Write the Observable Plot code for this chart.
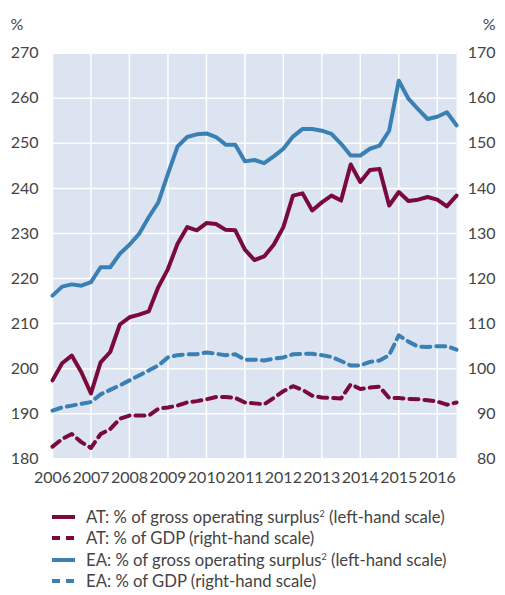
<!DOCTYPE html>
<html>
<head>
<meta charset="utf-8">
<script src="https://cdn.jsdelivr.net/npm/d3@7"></script>
<script src="https://cdn.jsdelivr.net/npm/@observablehq/plot@0.6"></script>
<style>
  body { margin: 0; background: #fff; font-family: Lato, "Open Sans", sans-serif; color: #444; }
  #chart { width: 505px; }
  .legend { margin-top: 11px; padding-left: 52px; font-size: 16.7px; }
  .row { height: 21.5px; display: flex; align-items: center; white-space: nowrap; }
  .row svg { margin-right: 11px; flex: none; }
  sup { font-size: 9px; vertical-align: 6px; line-height: 0; }
</style>
</head>
<body>
<div id="chart"></div>
<script>
const periods = [
  "2006Q1","2006Q2","2006Q3","2006Q4",
  "2007Q1","2007Q2","2007Q3","2007Q4",
  "2008Q1","2008Q2","2008Q3","2008Q4",
  "2009Q1","2009Q2","2009Q3","2009Q4",
  "2010Q1","2010Q2","2010Q3","2010Q4",
  "2011Q1","2011Q2","2011Q3","2011Q4",
  "2012Q1","2012Q2","2012Q3","2012Q4",
  "2013Q1","2013Q2","2013Q3","2013Q4",
  "2014Q1","2014Q2","2014Q3","2014Q4",
  "2015Q1","2015Q2","2015Q3","2015Q4",
  "2016Q1","2016Q2","2016Q3"
];
// left-hand scale (% of gross operating surplus)
const atGos = [
  197.4, 201.2, 202.9, 199.2,
  194.5, 201.4, 203.7, 209.8,
  211.4, 212.0, 212.7, 218.1,
  222.1, 227.7, 231.4, 230.7,
  232.3, 232.1, 230.8, 230.7,
  226.4, 224.1, 224.9, 227.5,
  231.4, 238.4, 238.9, 235.1,
  236.9, 238.4, 237.3, 245.3,
  241.4, 244.1, 244.3, 236.2,
  239.2, 237.2, 237.5, 238.1,
  237.5, 236.0, 238.4
];
const eaGos = [
  216.2, 218.2, 218.7, 218.4,
  219.2, 222.5, 222.5, 225.5,
  227.5, 229.9, 233.6, 236.9,
  243.2, 249.3, 251.4, 252.0,
  252.2, 251.4, 249.7, 249.7,
  246.0, 246.3, 245.6, 247.1,
  248.8, 251.5, 253.2, 253.2,
  252.8, 252.1, 249.9, 247.3,
  247.3, 248.8, 249.5, 252.8,
  263.9, 259.9, 257.6, 255.4,
  255.9, 256.9, 254.0
];
// right-hand scale (% of GDP)
const atGdp = [
  82.7, 84.4, 85.5, 83.7,
  82.4, 85.5, 86.6, 88.9,
  89.6, 89.6, 89.6, 91.1,
  91.4, 91.8, 92.5, 92.8,
  93.2, 93.7, 93.7, 93.5,
  92.5, 92.3, 92.1, 93.5,
  95.0, 96.1, 95.3, 94.0,
  93.6, 93.5, 93.4, 96.5,
  95.5, 95.8, 96.0, 93.5,
  93.5, 93.3, 93.2, 93.0,
  92.7, 92.0, 92.5
];
const eaGdp = [
  90.7, 91.4, 91.8, 92.2,
  92.6, 94.3, 95.3, 96.3,
  97.4, 98.5, 99.6, 100.7,
  102.5, 103.0, 103.2, 103.2,
  103.6, 103.3, 103.0, 103.2,
  102.0, 102.0, 101.8, 102.2,
  102.5, 103.2, 103.3, 103.3,
  103.0, 102.6, 101.7, 100.7,
  100.7, 101.5, 101.8, 103.0,
  107.4, 106.0, 104.9, 104.8,
  105.0, 105.0, 104.2
];
const yearTicks = [2006, 2007, 2008, 2009, 2010, 2011, 2012, 2013, 2014, 2015, 2016];
const leftTicks = [180, 190, 200, 210, 220, 230, 240, 250, 260, 270];
const rightTicks = [80, 90, 100, 110, 120, 130, 140, 150, 160, 170];
const seriesLabels = [
  "AT: % of gross operating surplus<sup>2</sup> (left-hand scale)",
  "AT: % of GDP (right-hand scale)",
  "EA: % of gross operating surplus<sup>2</sup> (left-hand scale)",
  "EA: % of GDP (right-hand scale)"
];

const AT = "#7a0a3e", EA = "#3a80b5";
const offset = 100; // right scale = left scale - 100

const toX = p => +p.slice(0, 4) + (+p.slice(5) - 1) / 4;
const rows = (vals, shift) => periods.map((p, i) => ({x: toX(p), y: vals[i] + shift}));

const chart = Plot.plot({
  width: 505,
  height: 495,
  marginTop: 52.7,
  marginBottom: 36.7,
  marginLeft: 52,
  marginRight: 49,
  style: {fontFamily: "Lato, 'Open Sans', sans-serif", fontSize: "16px", color: "#444", background: "white"},
  x: {domain: [2006, 2016.5]},
  y: {domain: [180, 270]},
  marks: [
    Plot.frame({fill: "#dbe4f0", stroke: null}),
    Plot.gridX(yearTicks, {stroke: "white", strokeOpacity: 1, strokeWidth: 1.5}),
    Plot.gridY(leftTicks, {stroke: "white", strokeOpacity: 1, strokeWidth: 1.5}),
    Plot.axisX(yearTicks, {tickSize: 0, tickPadding: 13, tickFormat: d => String(d), label: null}),
    Plot.axisY(leftTicks, {anchor: "left", tickSize: 0, tickPadding: 14, label: null}),
    Plot.axisY(rightTicks.map(d => d + offset), {anchor: "right", tickSize: 0, tickPadding: 39, textAnchor: "end", tickFormat: d => String(d - offset), label: null}),
    Plot.text(["%"], {frameAnchor: "top-left", dx: -42, dy: -35, textAnchor: "start", fontSize: 16}),
    Plot.text(["%"], {frameAnchor: "top-right", dx: 39, dy: -35, textAnchor: "end", fontSize: 16}),
    Plot.line(rows(atGdp, offset), {x: "x", y: "y", stroke: AT, strokeWidth: 4, strokeDasharray: "9,6"}),
    Plot.line(rows(eaGdp, offset), {x: "x", y: "y", stroke: EA, strokeWidth: 4, strokeDasharray: "9,6"}),
    Plot.line(rows(eaGos, 0), {x: "x", y: "y", stroke: EA, strokeWidth: 4}),
    Plot.line(rows(atGos, 0), {x: "x", y: "y", stroke: AT, strokeWidth: 4})
  ]
});
document.getElementById("chart").appendChild(chart);

const legend = document.createElement("div");
legend.className = "legend";
const swatches = [[AT, null], [AT, "8,6"], [EA, null], [EA, "8,6"]];
seriesLabels.forEach((lab, i) => {
  const [c, dash] = swatches[i];
  const row = document.createElement("div");
  row.className = "row";
  row.innerHTML = `<svg width="23" height="6"><line x1="0" x2="23" y1="3" y2="3" stroke="${c}" stroke-width="4" ${dash ? `stroke-dasharray="${dash}"` : ""}/></svg><span>${lab}</span>`;
  legend.appendChild(row);
});
document.getElementById("chart").appendChild(legend);
</script>
</body>
</html>
